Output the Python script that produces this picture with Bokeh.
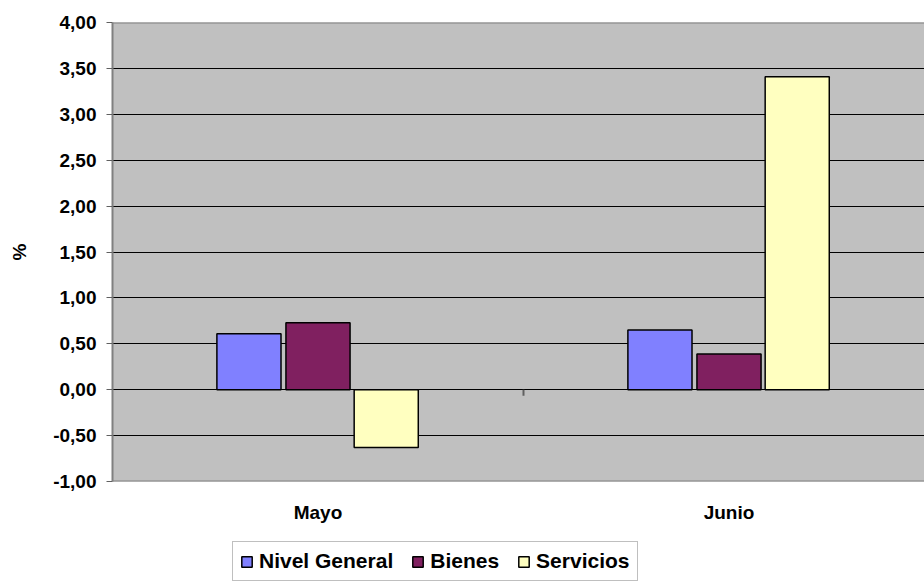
import math
from bokeh.plotting import figure
from bokeh.layouts import column
from bokeh.models import Range1d, FixedTicker, Span, Legend, LegendItem, ColumnDataSource
from bokeh.embed import file_html
from bokeh.resources import INLINE

categories = ["Mayo", "Junio"]
series_names = ["Nivel General", "Bienes", "Servicios"]
nivel_general = [0.61, 0.65]
bienes = [0.73, 0.39]
servicios = [-0.63, 3.41]
y_ticks = [-1.0, -0.5, 0.0, 0.5, 1.0, 1.5, 2.0, 2.5, 3.0, 3.5, 4.0]
y_tick_labels = ["-1,00", "-0,50", "0,00", "0,50", "1,00", "1,50", "2,00",
                 "2,50", "3,00", "3,50", "4,00"]
colors = ["#8080FF", "#802060", "#FFFFC0"]

FONT = "Liberation Sans"

xs = [i + 0.5 for i in range(len(categories))]
offsets = [-0.168, 0.0, 0.166]
bar_width = 0.156

p = figure(width=924, height=535, output_backend="svg", toolbar_location=None,
           x_range=Range1d(0, 812 / 411), y_range=Range1d(y_ticks[0], y_ticks[-1]),
           min_border_left=112, min_border_right=0, min_border_top=22,
           min_border_bottom=54)
p.background_fill_color = "#C0C0C0"
p.border_fill_color = "white"
p.outline_line_color = None

p.xgrid.visible = False
p.ygrid.ticker = FixedTicker(ticks=y_ticks[1:-1])
p.ygrid.grid_line_color = "black"
p.ygrid.grid_line_width = 1

for name, vals, off, col in zip(series_names, [nivel_general, bienes, servicios], offsets, colors):
    src = ColumnDataSource(dict(x=[x + off for x in xs], top=vals))
    p.vbar(x="x", top="top", bottom=0, width=bar_width, source=src,
           fill_color=col, line_color="black", line_width=1.5)

# frame top / bottom borders
for loc in (y_ticks[0], y_ticks[-1]):
    p.add_layout(Span(location=loc, dimension="width", line_color="#808080", line_width=2))

# category boundary tick on the zero line
p.ray(x=[xs[0] + 0.5], y=[0], length=6, length_units="screen", angle=-math.pi / 2,
      line_color="#606060", line_width=2)

# y axis
p.yaxis.ticker = FixedTicker(ticks=y_ticks)
p.yaxis.major_label_overrides = dict(zip(y_ticks, y_tick_labels))
p.yaxis.axis_line_color = "#808080"
p.yaxis.axis_line_width = 2
p.yaxis.major_tick_line_color = "#606060"
p.yaxis.major_tick_out = 6
p.yaxis.major_tick_in = 0
p.yaxis.minor_tick_line_color = None
p.yaxis.major_label_text_font = FONT
p.yaxis.major_label_text_font_style = "bold"
p.yaxis.major_label_text_font_size = "19px"
p.yaxis.major_label_text_color = "black"
p.yaxis.major_label_standoff = 10
p.yaxis.axis_label = "%"
p.yaxis.axis_label_text_font = FONT
p.yaxis.axis_label_text_font_style = "bold"
p.yaxis.axis_label_text_font_size = "19px"
p.yaxis.axis_label_text_color = "black"
p.yaxis.axis_label_standoff = 20

# x axis
p.xaxis.ticker = FixedTicker(ticks=xs)
p.xaxis.major_label_overrides = dict(zip(xs, categories))
p.xaxis.axis_line_color = None
p.xaxis.major_tick_line_color = None
p.xaxis.major_tick_out = 0
p.xaxis.major_tick_in = 0
p.xaxis.minor_tick_line_color = None
p.xaxis.major_label_text_font = FONT
p.xaxis.major_label_text_font_style = "bold"
p.xaxis.major_label_text_font_size = "19px"
p.xaxis.major_label_text_color = "black"
p.xaxis.major_label_standoff = 20

# legend strip (separate figure below the chart)
lg = figure(width=924, height=46, output_backend="svg", toolbar_location=None,
            x_range=Range1d(0, 1), y_range=Range1d(0, 1), min_border=0)
lg.axis.visible = False
lg.grid.visible = False
lg.outline_line_color = None
lg.background_fill_color = "white"
lg.border_fill_color = "white"
legend_renderers = []
for col in colors:
    # swatch-only renderers (hidden; used just for the legend swatches)
    r = lg.vbar(x=[0.5], top=[1], width=0.1, fill_color=col, line_color="black",
                line_width=1.5, visible=False)
    legend_renderers.append(r)

legend = Legend(items=[LegendItem(label=n, renderers=[r]) for n, r in zip(series_names, legend_renderers)],
                orientation="horizontal", location=(120, 0),
                border_line_color="#808080", border_line_width=1,
                background_fill_color="white", background_fill_alpha=1.0,
                label_text_font=FONT, label_text_font_style="bold",
                label_text_font_size="21px", label_text_color="black",
                label_height=20, click_policy="none",
                glyph_width=13, glyph_height=13, label_standoff=6,
                spacing=18, padding=7, margin=0)
lg.add_layout(legend, "center")

layout = column(p, lg, spacing=0)
open("out.html", "w").write(file_html(layout, INLINE))
